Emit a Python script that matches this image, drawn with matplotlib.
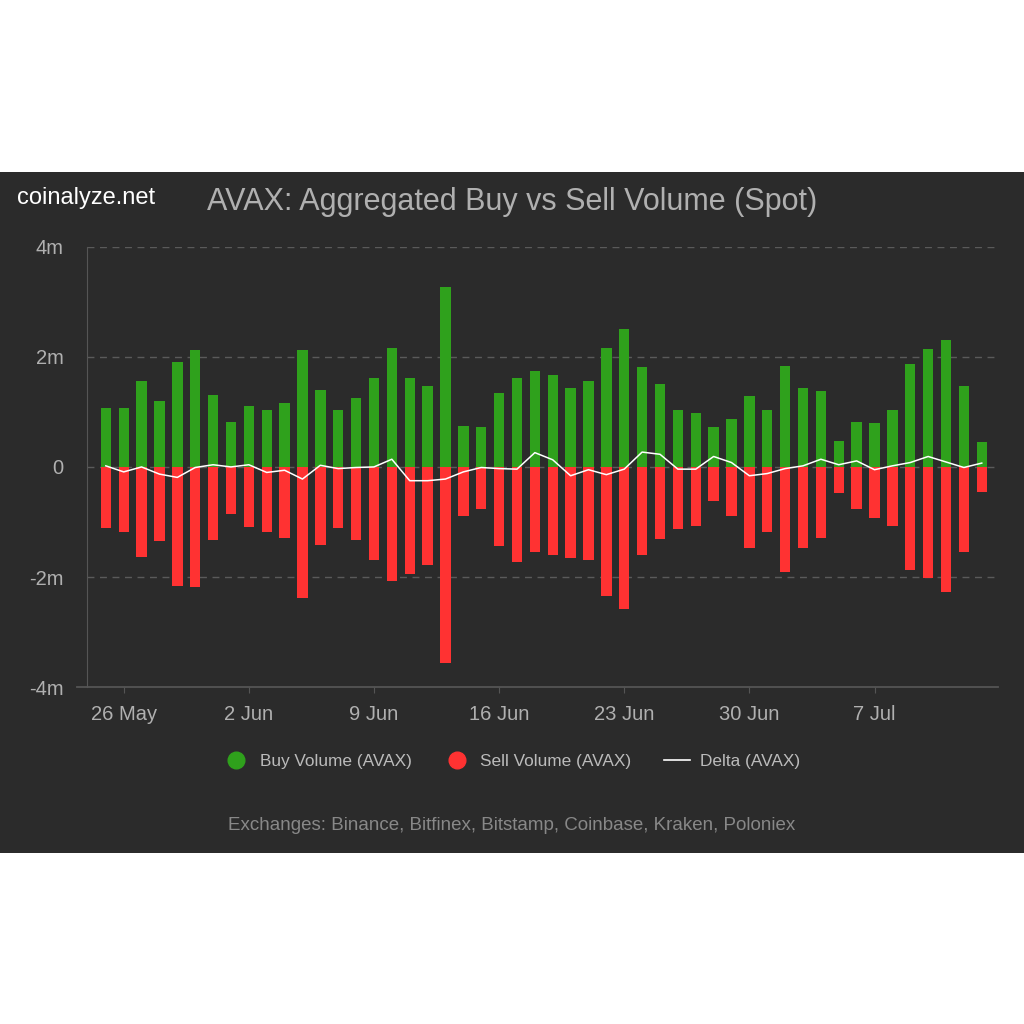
import datetime as dt
import matplotlib
matplotlib.use("Agg")
from matplotlib import pyplot as plt
import matplotlib.patches as mpatches
from matplotlib.lines import Line2D

plt.rcParams["font.family"] = ["Liberation Sans", "DejaVu Sans"]

# daily values, 25 May .. 13 Jul (in millions of AVAX)
start = dt.date(2023, 5, 25)
days = [start + dt.timedelta(days=i) for i in range(50)]

buy = [1.07, 1.07, 1.56, 1.19, 1.90, 2.12, 1.31, 0.82, 1.10, 1.04,
       1.16, 2.13, 1.40, 1.04, 1.25, 1.62, 2.16, 1.62, 1.47, 3.27,
       0.75, 0.72, 1.35, 1.62, 1.75, 1.67, 1.44, 1.57, 2.16, 2.50,
       1.82, 1.50, 1.04, 0.98, 0.73, 0.88, 1.28, 1.04, 1.84, 1.44,
       1.38, 0.48, 0.82, 0.79, 1.04, 1.87, 2.15, 2.31, 1.47, 0.45]
sell = [-1.11, -1.19, -1.63, -1.35, -2.16, -2.19, -1.32, -0.85, -1.10, -1.19,
        -1.29, -2.38, -1.42, -1.11, -1.32, -1.69, -2.07, -1.95, -1.79, -3.56,
        -0.89, -0.76, -1.44, -1.72, -1.54, -1.60, -1.66, -1.69, -2.35, -2.59,
        -1.60, -1.31, -1.13, -1.07, -0.61, -0.89, -1.48, -1.19, -1.91, -1.48,
        -1.29, -0.48, -0.76, -0.92, -1.07, -1.88, -2.01, -2.28, -1.54, -0.45]
delta = [0.02, -0.09, 0.00, -0.13, -0.19, -0.01, 0.04, 0.00, 0.04, -0.10,
         -0.06, -0.22, 0.03, -0.03, -0.01, 0.00, 0.14, -0.25, -0.25, -0.22,
         -0.09, -0.01, -0.03, -0.04, 0.26, 0.13, -0.16, -0.05, -0.14, -0.04,
         0.27, 0.23, -0.04, -0.04, 0.19, 0.08, -0.16, -0.12, -0.03, 0.02,
         0.14, 0.04, 0.11, -0.05, 0.02, 0.08, 0.19, 0.09, -0.01, 0.07]

tick_days = [dt.date(2023, 5, 26), dt.date(2023, 6, 2), dt.date(2023, 6, 9),
             dt.date(2023, 6, 16), dt.date(2023, 6, 23), dt.date(2023, 6, 30),
             dt.date(2023, 7, 7)]
tick_labels = ["26 May", "2 Jun", "9 Jun", "16 Jun", "23 Jun", "30 Jun", "7 Jul"]
y_ticks = [-4, -2, 0, 2, 4]
y_labels = ["-4m", "-2m", "0", "2m", "4m"]

bg = "#2b2b2b"
green = "#2fa11c"
red = "#ff3232"
txt = "#b0b0b0"

fig = plt.figure(figsize=(10.24, 10.24), dpi=100)
fig.patch.set_facecolor("white")
fig.patches.append(mpatches.Rectangle((0, 0.167), 1, 0.665, transform=fig.transFigure,
                                      facecolor=bg, edgecolor="none", zorder=-10))

ax = fig.add_axes([0.085, 0.329, 0.89, 0.43])
ax.set_facecolor(bg)

x = [(d - start).days for d in days]
ax.bar(x, buy, width=0.58, color=green, zorder=2)
ax.bar(x, sell, width=0.58, color=red, zorder=2)
ax.plot(x, delta, color="white", lw=1.1, zorder=3)

ax.set_ylim(-4, 4)
ax.set_xlim(-1.05, 49.93)
ax.set_yticks(y_ticks)
ax.set_yticklabels(y_labels)
ax.set_xticks([(d - start).days for d in tick_days])
ax.set_xticklabels(tick_labels)

for yv in [0, 2, 4, -2]:
    ax.axhline(yv, color="#5a5a5a", lw=1, ls=(0, (5, 4)), zorder=1)

for s in ["top", "right", "bottom"]:
    ax.spines[s].set_visible(False)
ax.spines["left"].set_color("#555555")
# bottom axis line runs a bit left of the y axis
ax.plot([-0.011, 1.0], [0, 0], transform=ax.transAxes, color="#555555", lw=1.3,
        clip_on=False, zorder=4)
ax.tick_params(axis="y", length=0, pad=17, labelsize=14.5, labelcolor=txt)
ax.tick_params(axis="x", length=4, width=0.8, color="#555555", pad=9, labelsize=14.5,
               labelcolor=txt)

fig.text(0.017, 0.807, "coinalyze.net", color="white", fontsize=17, va="center", ha="left")
fig.text(0.5, 0.803, "AVAX: Aggregated Buy vs Sell Volume (Spot)", color=txt,
         fontsize=22, va="center", ha="center")

handles = [
    Line2D([], [], marker="o", ls="none", color=green, markersize=12),
    Line2D([], [], marker="o", ls="none", color=red, markersize=12),
    Line2D([], [], color="white", lw=1.2),
]
fig.legend(handles, ["Buy Volume (AVAX)", "Sell Volume (AVAX)", "Delta (AVAX)"],
           loc="center", bbox_to_anchor=(0.500, 0.256), ncol=3, frameon=False,
           labelcolor="#bbbbbb", fontsize=12.4, handlelength=1.5, columnspacing=1.9,
           handletextpad=0.6)

fig.text(0.5, 0.194, "Exchanges: Binance, Bitfinex, Bitstamp, Coinbase, Kraken, Poloniex",
         color="#888888", fontsize=13.5, ha="center", va="center")

fig.savefig("out.png", dpi=100, facecolor="white")
